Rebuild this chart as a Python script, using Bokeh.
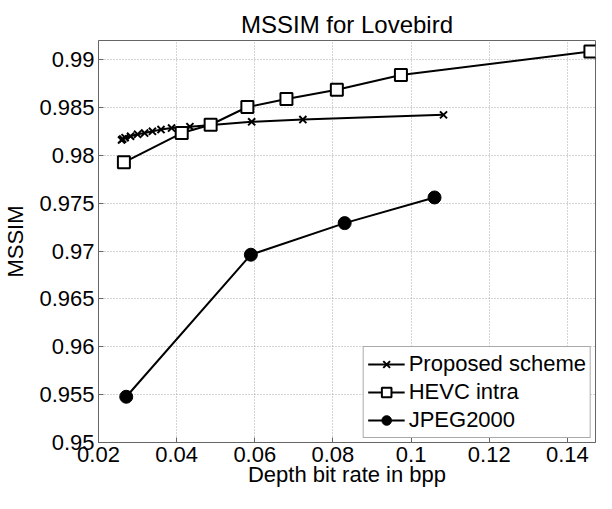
from bokeh.plotting import figure
from bokeh.models import FixedTicker, Range1d
from bokeh.embed import file_html
from bokeh.resources import INLINE

# data
prop_x = [0.0259, 0.0262, 0.0268, 0.0282, 0.0300, 0.0318, 0.0338, 0.0360, 0.0387, 0.0434, 0.0592, 0.0723, 0.1083]
prop_y = [0.9816, 0.9817, 0.98185, 0.9820, 0.9822, 0.98233, 0.98251, 0.98269, 0.98285, 0.98300, 0.98350, 0.98374, 0.98423]
hevc_x = [0.0265, 0.0413, 0.0487, 0.0581, 0.0681, 0.0810, 0.0974, 0.1459]
hevc_y = [0.97927, 0.98233, 0.98320, 0.98505, 0.98589, 0.98685, 0.98840, 0.99084]
jpeg_x = [0.0271, 0.0590, 0.0830, 0.1060]
jpeg_y = [0.95478, 0.96962, 0.97292, 0.97560]

x_ticks = [0.02, 0.04, 0.06, 0.08, 0.10, 0.12, 0.14]
x_tick_labels = ["0.02", "0.04", "0.06", "0.08", "0.1", "0.12", "0.14"]
y_ticks = [0.95, 0.955, 0.96, 0.965, 0.97, 0.975, 0.98, 0.985, 0.99]
y_tick_labels = ["0.95", "0.955", "0.96", "0.965", "0.97", "0.975", "0.98", "0.985", "0.99"]

FONT = "Liberation Sans"

p = figure(width=596, height=493, output_backend="svg", toolbar_location=None,
           x_range=Range1d(0.02, 0.1472), y_range=Range1d(0.95, 0.992),
           title="MSSIM for Lovebird",
           min_border_left=94, min_border_top=40, min_border_right=1, min_border_bottom=51)

p.title.align = "center"
p.title.text_font = FONT
p.title.text_font_size = "24px"
p.title.text_font_style = "normal"
p.title.text_color = "black"
p.title.standoff = 6

for ax in (p.xaxis[0], p.yaxis[0]):
    ax.major_label_text_font = FONT
    ax.major_label_text_font_size = "22px"
    ax.major_label_text_color = "black"
    ax.axis_label_text_font = FONT
    ax.axis_label_text_font_size = "22px"
    ax.axis_label_text_font_style = "normal"
    ax.axis_label_text_color = "black"
    ax.axis_line_color = "#666666"
    ax.major_tick_line_color = "#666666"
    ax.major_tick_in = 5
    ax.major_tick_out = 0
    ax.minor_tick_line_color = None

p.xaxis.ticker = FixedTicker(ticks=x_ticks)
p.xaxis.major_label_overrides = {t: l for t, l in zip(x_ticks, x_tick_labels)}
p.yaxis.ticker = FixedTicker(ticks=y_ticks)
p.yaxis.major_label_overrides = {t: l for t, l in zip(y_ticks, y_tick_labels)}
p.xaxis.axis_label = "Depth bit rate in bpp"
p.yaxis.axis_label = "MSSIM"
p.xaxis.major_label_standoff = 4
p.yaxis.major_label_standoff = 4
p.xaxis.axis_label_standoff = -3
p.yaxis.axis_label_standoff = 8

p.grid.grid_line_color = "#a8a8a8"
p.grid.grid_line_dash = "1 2"
p.grid.grid_line_width = 1
p.outline_line_color = "#666666"
p.outline_line_width = 1
p.background_fill_color = "white"
p.border_fill_color = "white"

p.line(prop_x, prop_y, color="black", line_width=2, legend_label="Proposed scheme")
p.scatter(prop_x, prop_y, marker="x", size=10, line_color="black", line_width=2, legend_label="Proposed scheme")

p.line(hevc_x, hevc_y, color="black", line_width=2, legend_label="HEVC intra")
p.scatter(hevc_x, hevc_y, marker="square", size=12, line_color="black", fill_color="white", line_width=2, legend_label="HEVC intra")

p.line(jpeg_x, jpeg_y, color="black", line_width=2, legend_label="JPEG2000")
p.scatter(jpeg_x, jpeg_y, marker="circle", size=13, line_color="black", fill_color="black", legend_label="JPEG2000")

lg = p.legend[0]
lg.location = "bottom_right"
lg.margin = 4
lg.padding = 4
lg.spacing = 2
lg.glyph_width = 37
lg.glyph_height = 24
lg.label_standoff = 4
lg.label_text_font = FONT
lg.label_text_font_size = "22px"
lg.label_text_color = "black"
lg.label_height = 24
lg.border_line_color = "#555555"
lg.border_line_width = 1
lg.background_fill_color = "white"
lg.background_fill_alpha = 1.0

open("out.html", "w").write(file_html(p, INLINE))
